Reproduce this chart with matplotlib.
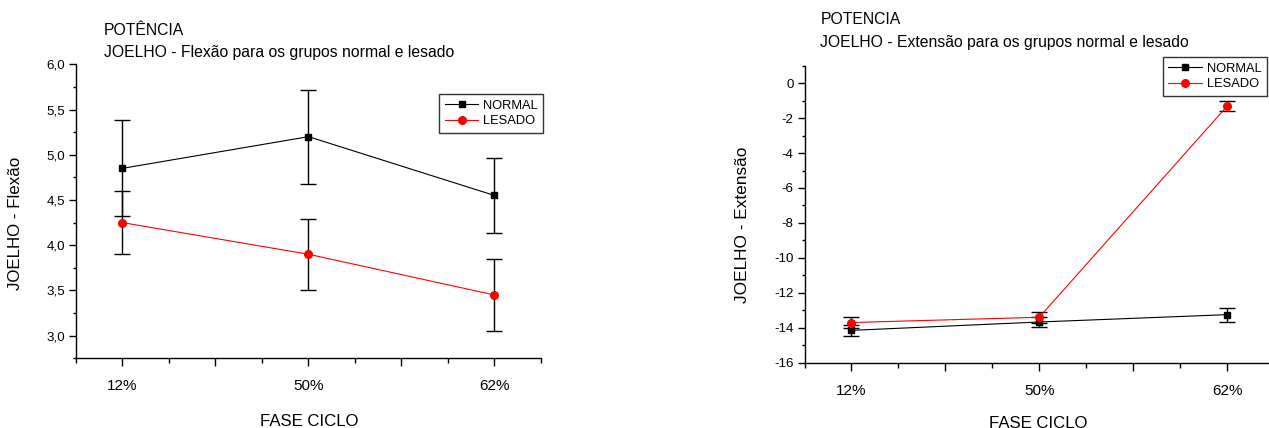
import matplotlib
matplotlib.use("Agg")
import matplotlib.pyplot as plt
from matplotlib.ticker import FixedLocator, FuncFormatter, MultipleLocator

plt.rcParams['font.family'] = ['Liberation Sans', 'DejaVu Sans']

# ---- data ----
phases = ["12%", "50%", "62%"]

flex_normal = [4.85, 5.20, 4.55]
flex_normal_err = [0.53, 0.52, 0.41]
flex_lesado = [4.25, 3.90, 3.45]
flex_lesado_err = [0.35, 0.39, 0.40]

ext_normal = [-14.15, -13.67, -13.25]
ext_normal_err = [0.30, 0.30, 0.40]
ext_lesado = [-13.70, -13.40, -1.32]
ext_lesado_err = [0.30, 0.30, 0.30]

titles_left = ["POTÊNCIA", "JOELHO - Flexão para os grupos normal e lesado"]
titles_right = ["POTENCIA", "JOELHO - Extensão para os grupos normal e lesado"]
ylabel_left = "JOELHO - Flexão"
ylabel_right = "JOELHO - Extensão"
xlabel = "FASE CICLO"
series_names = ["NORMAL", "LESADO"]

W, H = 1269, 428
fig = plt.figure(figsize=(W / 100, H / 100), dpi=100)


def px_axes(l, r, t, b):
    return fig.add_axes([l / W, 1 - b / H, (r - l) / W, (b - t) / H])


def style(ax):
    for s in ("top", "right"):
        ax.spines[s].set_visible(False)
    for s in ("left", "bottom"):
        ax.spines[s].set_linewidth(1.0)
    ax.set_xlim(0.75, 3.25)
    ax.xaxis.set_major_locator(FixedLocator([1, 1.5, 2, 2.5, 3]))
    ax.xaxis.set_minor_locator(FixedLocator([0.75, 1.25, 1.75, 2.25, 2.75, 3.25]))
    ax.xaxis.set_major_formatter(
        FuncFormatter(lambda v, p: phases[int(round(v)) - 1] if abs(v - round(v)) < 1e-6 else ""))
    ax.tick_params(axis='x', which='major', direction='out', length=6, width=1,
                   labelsize=11, pad=9)
    ax.tick_params(axis='x', which='minor', direction='out', length=3.5, width=1)
    ax.tick_params(axis='y', which='major', direction='out', length=5, width=1,
                   labelsize=9.6, pad=3)
    ax.tick_params(axis='y', which='minor', direction='out', length=2.5, width=1)


def plot_series(ax, yn, en, yl, el):
    x = [1, 2, 3]
    ax.errorbar(x, yn, yerr=en, fmt='none', ecolor='black', elinewidth=1,
                capsize=5.5, capthick=1, zorder=2)
    ax.errorbar(x, yl, yerr=el, fmt='none', ecolor='black', elinewidth=1,
                capsize=5.5, capthick=1, zorder=2)
    ax.plot(x, yn, color='black', lw=0.8, marker='s', ms=5, mfc='black', mec='black',
            label=series_names[0], zorder=3)
    ax.plot(x, yl, color='#ff0000', lw=0.8, marker='o', ms=5.5, mfc='#ff0000', mec='#ff0000',
            label=series_names[1], zorder=3)


def make_legend(ax, x, y):
    leg = ax.legend(loc='upper left', bbox_to_anchor=(x / W, 1 - y / H),
                    bbox_transform=fig.transFigure, fontsize=9.3, frameon=True,
                    fancybox=False, borderaxespad=0, handlelength=2.6, handletextpad=0.35,
                    borderpad=0.45, labelspacing=0.25)
    leg.get_frame().set_edgecolor('black')
    leg.get_frame().set_linewidth(1.0)
    return leg


# ---- left chart ----
axl = px_axes(76, 541, 64.3, 358.3)
style(axl)
plot_series(axl, flex_normal, flex_normal_err, flex_lesado, flex_lesado_err)
axl.set_ylim(2.75, 6.0)
axl.yaxis.set_major_locator(MultipleLocator(0.5))
axl.yaxis.set_minor_locator(FixedLocator([2.75 + 0.5 * i for i in range(7)]))
axl.yaxis.set_major_formatter(FuncFormatter(lambda v, p: f"{v:.1f}".replace('.', ',')))
make_legend(axl, 439, 94)

fig.text(103.6 / W, 1 - 35 / H, titles_left[0], fontsize=11.3, va='baseline', ha='left')
fig.text(103.6 / W, 1 - 57.3 / H, titles_left[1], fontsize=11.3, va='baseline', ha='left')
fig.text(16 / W, 1 - 223 / H, ylabel_left, fontsize=12.2, rotation=90, va='center', ha='center')
fig.text(309 / W, 1 - 426 / H, xlabel, fontsize=12.1, va='baseline', ha='center')

# ---- right chart ----
axr = px_axes(804.5, 1274, 65.7, 362.7)
style(axr)
plot_series(axr, ext_normal, ext_normal_err, ext_lesado, ext_lesado_err)
axr.set_ylim(-16, 1)
axr.yaxis.set_major_locator(MultipleLocator(2))
axr.yaxis.set_minor_locator(FixedLocator([-15, -13, -11, -9, -7, -5, -3, -1, 1]))
axr.yaxis.set_major_formatter(FuncFormatter(lambda v, p: f"{int(round(v))}"))
make_legend(axr, 1162.6, 57)

fig.text(820.5 / W, 1 - 24.3 / H, titles_right[0], fontsize=11.3, va='baseline', ha='left')
fig.text(820.5 / W, 1 - 46.7 / H, titles_right[1], fontsize=11.3, va='baseline', ha='left')
fig.text(742.5 / W, 1 - 225 / H, ylabel_right, fontsize=12.4, rotation=90, va='center', ha='center')
fig.text(1038 / W, 1 - 427.5 / H, xlabel, fontsize=12.1, va='baseline', ha='center')

fig.savefig("out.png", dpi=100)
